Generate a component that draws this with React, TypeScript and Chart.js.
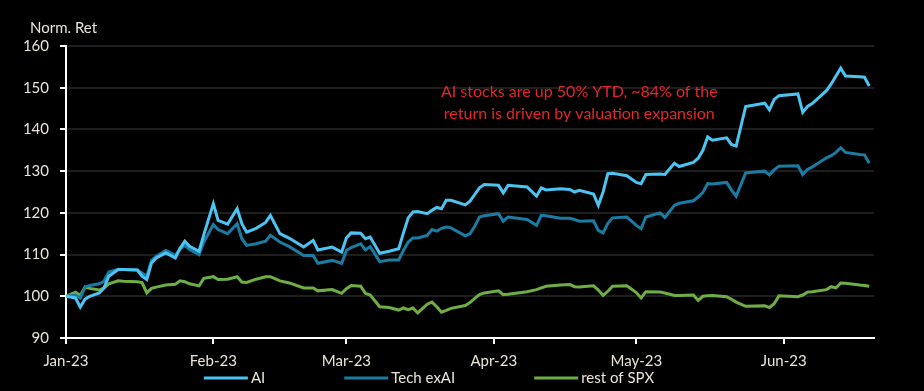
import React, { useEffect, useRef } from "react";
import { Chart, registerables } from "chart.js";

Chart.register(...registerables);

// Trading dates (2023) of the plotted vertices
const dates: string[] = [
  "2023-01-01", "2023-01-03", "2023-01-04", "2023-01-05", "2023-01-06", "2023-01-08", "2023-01-09", "2023-01-10",
  "2023-01-12", "2023-01-13", "2023-01-16", "2023-01-17", "2023-01-18", "2023-01-19", "2023-01-20", "2023-01-22",
  "2023-01-24", "2023-01-25", "2023-01-26", "2023-01-27", "2023-01-29", "2023-01-30",
  "2023-02-01", "2023-02-02", "2023-02-04", "2023-02-06", "2023-02-07", "2023-02-08", "2023-02-10", "2023-02-12",
  "2023-02-13", "2023-02-15", "2023-02-17", "2023-02-20", "2023-02-22", "2023-02-23", "2023-02-26", "2023-02-28",
  "2023-03-01", "2023-03-02", "2023-03-04", "2023-03-05", "2023-03-06", "2023-03-08", "2023-03-10", "2023-03-12",
  "2023-03-13", "2023-03-14", "2023-03-15", "2023-03-16", "2023-03-18", "2023-03-19", "2023-03-20", "2023-03-21",
  "2023-03-22", "2023-03-23", "2023-03-26", "2023-03-27", "2023-03-28", "2023-03-29", "2023-03-30",
  "2023-04-02", "2023-04-03", "2023-04-04", "2023-04-08", "2023-04-10", "2023-04-11", "2023-04-12", "2023-04-15",
  "2023-04-17", "2023-04-18", "2023-04-19", "2023-04-22", "2023-04-23", "2023-04-24", "2023-04-25", "2023-04-26",
  "2023-04-29",
  "2023-05-01", "2023-05-02", "2023-05-03", "2023-05-06", "2023-05-07", "2023-05-09", "2023-05-10", "2023-05-13",
  "2023-05-14", "2023-05-15", "2023-05-16", "2023-05-17", "2023-05-20", "2023-05-21", "2023-05-22", "2023-05-24",
  "2023-05-28", "2023-05-29", "2023-05-30", "2023-05-31",
  "2023-06-04", "2023-06-05", "2023-06-06", "2023-06-07", "2023-06-10", "2023-06-11", "2023-06-12", "2023-06-13",
  "2023-06-14", "2023-06-17", "2023-06-18", "2023-06-19",
];

const aiValues: number[] = [
  100.0, 99.6, 97.4, 99.3, 100.0, 100.8, 102.0, 104.8, 106.4, 106.4, 106.3, 104.8, 104.0, 108.0, 109.2, 110.4,
  109.2, 111.5, 113.2, 112.0, 110.8, 114.8,
  122.2, 118.2, 117.3, 121.0, 117.4, 115.4, 116.3, 117.7, 119.4, 115.0, 113.9, 111.8, 113.4, 111.1, 111.8, 110.6,
  114.0, 115.2, 115.1, 113.8, 114.2, 110.3, 110.8, 111.4, 115.2, 118.8, 120.2, 120.3, 119.8, 120.6, 121.3, 121.0,
  123.0, 123.0, 121.9, 122.8, 124.4, 126.0, 126.8,
  126.6, 124.8, 126.6, 126.2, 124.0, 126.0, 125.5, 125.8, 125.6, 125.0, 125.4, 124.5, 121.8, 125.0, 129.4, 129.5,
  128.9,
  127.3, 127.0, 129.2, 129.3, 129.2, 131.9, 131.1, 132.1, 133.1, 135.0, 138.2, 137.4, 138.0, 136.4, 136.0, 145.5,
  146.3, 144.7, 147.2, 148.1,
  148.5, 144.1, 145.5, 146.2, 149.3, 150.9, 152.8, 154.7, 152.8, 152.6, 152.5, 150.4,
];

const techExAiValues: number[] = [
  100.0, 100.3, 99.6, 102.2, 102.6, 103.0, 103.6, 105.8, 106.5, 106.4, 106.3, 105.6, 104.8, 108.6, 109.6, 111.0,
  109.8, 111.3, 112.2, 111.2, 110.0, 113.0,
  117.2, 116.0, 115.0, 117.4, 113.8, 112.2, 112.6, 113.2, 114.6, 113.0, 111.9, 109.8, 109.8, 107.9, 108.6, 107.9,
  111.0, 111.7, 112.6, 111.1, 111.9, 108.3, 108.7, 108.7, 111.0, 113.0, 114.0, 114.0, 114.6, 116.0, 115.6, 116.3,
  116.6, 116.4, 114.5, 115.0, 116.8, 119.0, 119.3,
  119.8, 118.0, 119.0, 118.4, 117.0, 119.4, 119.3, 118.7, 118.7, 118.4, 118.0, 118.1, 115.8, 115.2, 117.5, 118.8,
  119.0,
  117.0, 116.2, 119.0, 120.0, 118.9, 121.8, 122.3, 122.9, 123.8, 124.9, 127.0, 126.9, 127.3, 125.5, 124.0, 129.6,
  130.0, 129.1, 130.3, 131.2,
  131.3, 129.2, 130.4, 131.0, 133.2, 133.7, 134.5, 135.6, 134.5, 134.0, 133.9, 131.9,
];

const restOfSpxValues: number[] = [
  100.0, 101.0, 100.2, 102.2, 101.9, 101.5, 102.0, 103.0, 103.7, 103.6, 103.5, 103.3, 100.8, 101.9, 102.2, 102.7,
  102.9, 103.7, 103.5, 103.0, 102.5, 104.3,
  104.7, 104.0, 104.1, 104.7, 103.4, 103.3, 104.1, 104.7, 104.7, 103.7, 103.2, 102.0, 102.0, 101.3, 101.6, 100.7,
  101.8, 102.6, 102.4, 100.7, 100.3, 97.5, 97.3, 96.7, 97.2, 96.8, 97.2, 96.0, 98.1, 98.6, 97.5, 96.2,
  96.6, 97.1, 97.8, 98.5, 99.5, 100.4, 100.8,
  101.3, 100.4, 100.5, 101.1, 101.6, 102.0, 102.4, 102.7, 102.8, 102.3, 102.2, 102.5, 101.5, 100.2, 101.2, 102.4,
  102.5,
  100.9, 99.6, 101.1, 101.0, 100.8, 100.2, 100.2, 100.3, 99.0, 100.0, 100.1, 100.2, 99.9, 99.3, 98.6, 97.6,
  97.7, 97.3, 98.2, 100.1,
  99.9, 100.3, 101.0, 101.1, 101.6, 102.3, 102.0, 103.2, 103.1, 102.7, 102.6, 102.4,
];

const seriesNames: string[] = ["AI", "Tech exAI", "rest of SPX"];
const seriesColors: string[] = ["#4cc4f2", "#1b7ca3", "#6fae45"];
const monthTickDates: string[] = ["2023-01-01", "2023-02-01", "2023-03-01", "2023-04-01", "2023-05-01", "2023-06-01"];
const monthTickLabels: string[] = ["Jan-23", "Feb-23", "Mar-23", "Apr-23", "May-23", "Jun-23"];
const axisEndDate = "2023-06-20";
const yAxisTitle = "Norm. Ret";
const annotationLines: string[] = ["AI stocks are up 50% YTD, ~84% of the", "return is driven by valuation expansion"];
const annotationDate = "2023-04-19";
const annotationValues: number[] = [149.0, 143.7];

const BASE = Date.UTC(2023, 0, 1);
const dayOf = (s: string) => {
  const [y, m, d] = s.split("-").map(Number);
  return (Date.UTC(y, m - 1, d) - BASE) / 86400000;
};

const FONT = "Lato, 'Open Sans', 'Liberation Sans', sans-serif";
const TEXT = "#e9e4da";

export default function App() {
  const ref = useRef<HTMLCanvasElement | null>(null);

  useEffect(() => {
    document.body.style.margin = "0";
    document.body.style.background = "#000";
    const canvas = ref.current;
    if (!canvas) return;

    const toPts = (vals: number[]) => vals.map((v, i) => ({ x: dayOf(dates[i]), y: v }));
    const tickDays = monthTickDates.map(dayOf);

    const overlay = {
      id: "overlayText",
      afterDraw(chart: any) {
        const ctx = chart.ctx;
        const xs = chart.scales.x;
        const ys = chart.scales.y;
        ctx.save();
        // axis title
        ctx.fillStyle = TEXT;
        ctx.font = `15px ${FONT}`;
        ctx.textAlign = "left";
        ctx.textBaseline = "middle";
        ctx.fillText(yAxisTitle, 30, 28);
        // annotation
        ctx.fillStyle = "#e3262d";
        ctx.font = `16px ${FONT}`;
        ctx.textAlign = "center";
        const cx = xs.getPixelForValue(dayOf(annotationDate));
        annotationLines.forEach((line, i) => {
          ctx.fillText(line, cx, ys.getPixelForValue(annotationValues[i]));
        });
        // legend
        ctx.font = `15px ${FONT}`;
        ctx.textAlign = "left";
        const sample = 44, gap = 3, spacing = 79;
        const widths = seriesNames.map((n) => sample + gap + ctx.measureText(n).width);
        const total = widths.reduce((a, b) => a + b, 0) + spacing * (widths.length - 1);
        let lx = (chart.width - 66) / 2 - total / 2;
        const ly = 378;
        seriesNames.forEach((n, i) => {
          ctx.strokeStyle = seriesColors[i];
          ctx.lineWidth = 3;
          ctx.beginPath();
          ctx.moveTo(lx, ly);
          ctx.lineTo(lx + sample, ly);
          ctx.stroke();
          ctx.fillStyle = TEXT;
          ctx.fillText(n, lx + sample + gap, ly);
          lx += widths[i] + spacing;
        });
        ctx.restore();
      },
    };

    const chart = new Chart(canvas, {
      type: "line",
      data: {
        datasets: [
          { label: seriesNames[0], data: toPts(aiValues), borderColor: seriesColors[0], backgroundColor: seriesColors[0] },
          { label: seriesNames[1], data: toPts(techExAiValues), borderColor: seriesColors[1], backgroundColor: seriesColors[1] },
          { label: seriesNames[2], data: toPts(restOfSpxValues), borderColor: seriesColors[2], backgroundColor: seriesColors[2] },
        ].map((d) => ({ ...d, borderWidth: 3, pointRadius: 0, tension: 0, fill: false })),
      },
      options: {
        animation: false,
        responsive: false,
        maintainAspectRatio: false,
        layout: { padding: { top: 46, right: 50, left: 0, bottom: 13 } },
        scales: {
          x: {
            type: "linear",
            min: 0,
            max: dayOf(axisEndDate),
            afterBuildTicks: (scale: any) => {
              scale.ticks = tickDays.map((v) => ({ value: v }));
            },
            ticks: {
              autoSkip: false,
              maxRotation: 0,
              padding: 8,
              color: TEXT,
              font: { family: FONT, size: 15 },
              callback: (v: any) => {
                const i = tickDays.indexOf(Number(v));
                return i >= 0 ? monthTickLabels[i] : "";
              },
            },
            grid: { drawOnChartArea: false, drawTicks: true, tickLength: 6, color: "#ffffff", tickColor: "#ffffff", lineWidth: 2 },
            border: { color: "#ffffff", width: 2 },
          },
          y: {
            min: 90,
            max: 160,
            afterFit: (scale: any) => {
              scale.width = 66;
            },
            ticks: { stepSize: 10, padding: 11, color: TEXT, font: { family: FONT, size: 15 } },
            grid: { color: "#1e1e1e", lineWidth: 2, tickLength: 6, tickColor: "#ffffff", tickWidth: 2 },
            border: { color: "#ffffff", width: 2 },
          },
        },
        plugins: {
          legend: { display: false },
          tooltip: { enabled: false },
        },
      },
      plugins: [overlay],
    } as any);

    return () => chart.destroy();
  }, []);

  return (
    <div style={{ width: 924, height: 391, background: "#000" }}>
      <canvas ref={ref} width={924} height={391} style={{ display: "block" }} />
    </div>
  );
}
